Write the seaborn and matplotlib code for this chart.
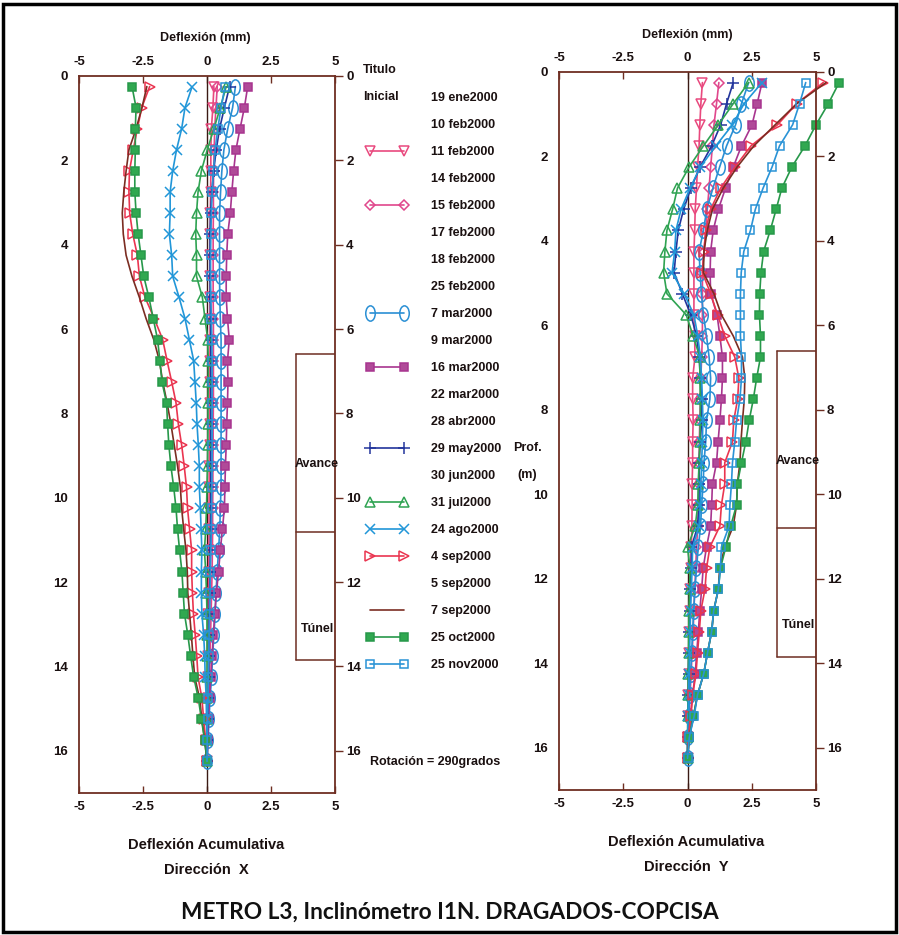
import matplotlib
matplotlib.use("Agg")
import matplotlib.pyplot as plt
import seaborn as sns
import pandas as pd
from matplotlib.lines import Line2D
from matplotlib.patches import Rectangle
from matplotlib.path import Path
from matplotlib.transforms import Affine2D

# ---------------- data ----------------
depth = [0.25, 0.75, 1.25, 1.75, 2.25, 2.75, 3.25, 3.75, 4.25, 4.75, 5.25,
         5.75, 6.25, 6.75, 7.25, 7.75, 8.25, 8.75, 9.25, 9.75, 10.25, 10.75,
         11.25, 11.75, 12.25, 12.75, 13.25, 13.75, 14.25, 14.75, 15.25, 15.75, 16.25]

dates = ["19 ene2000", "10 feb2000", "11 feb2000", "14 feb2000", "15 feb2000",
         "17 feb2000", "18 feb2000", "25 feb2000", "7 mar2000", "9 mar2000",
         "16 mar2000", "22 mar2000", "28 abr2000", "29 may2000", "30 jun2000",
         "31 jul2000", "24 ago2000", "4 sep2000", "5 sep2000", "7 sep2000",
         "25 oct2000", "25 nov2000"]

# Direction X (mm)
feb11_x = [0.27, 0.23, 0.17, 0.15, 0.15, 0.14, 0.13, 0.13, 0.12, 0.12, 0.12, 0.12, 0.12, 0.11, 0.11, 0.10, 0.10,
           0.10, 0.09, 0.09, 0.08, 0.08, 0.07, 0.07, 0.06, 0.05, 0.05, 0.04, 0.03, 0.02, 0.01, 0.00, 0.00]
feb15_x = [0.40, 0.35, 0.30, 0.28, 0.26, 0.25, 0.25, 0.24, 0.24, 0.24, 0.24, 0.25, 0.25, 0.25, 0.25, 0.25, 0.24,
           0.24, 0.23, 0.23, 0.22, 0.22, 0.21, 0.20, 0.18, 0.16, 0.14, 0.12, 0.10, 0.07, 0.05, 0.02, 0.00]
mar07_x = [1.11, 1.00, 0.81, 0.66, 0.58, 0.53, 0.49, 0.49, 0.49, 0.49, 0.50, 0.52, 0.55, 0.55, 0.55, 0.55, 0.55,
           0.55, 0.55, 0.55, 0.52, 0.50, 0.45, 0.40, 0.35, 0.32, 0.27, 0.22, 0.18, 0.12, 0.08, 0.04, 0.00]
mar16_x = [1.59, 1.46, 1.29, 1.13, 1.04, 0.97, 0.91, 0.81, 0.77, 0.75, 0.75, 0.80, 0.87, 0.80, 0.82, 0.80, 0.77,
           0.75, 0.72, 0.70, 0.68, 0.60, 0.52, 0.45, 0.37, 0.30, 0.25, 0.20, 0.15, 0.10, 0.06, 0.03, 0.00]
may29_x = [0.88, 0.68, 0.49, 0.36, 0.26, 0.19, 0.14, 0.12, 0.12, 0.12, 0.13, 0.14, 0.15, 0.15, 0.15, 0.15, 0.15,
           0.15, 0.15, 0.15, 0.15, 0.14, 0.13, 0.12, 0.10, 0.09, 0.08, 0.07, 0.06, 0.04, 0.03, 0.01, 0.00]
jul31_x = [0.75, 0.52, 0.27, 0.01, -0.22, -0.35, -0.41, -0.44, -0.41, -0.41, -0.18, -0.08, 0.03, 0.05, 0.05, 0.04, 0.04,
           0.03, 0.02, 0.00, -0.02, -0.05, -0.10, -0.05, -0.02, 0.00, 0.00, 0.00, 0.00, 0.00, 0.00, 0.00, 0.00]
ago24_x = [-0.58, -0.86, -0.99, -1.19, -1.34, -1.44, -1.44, -1.47, -1.38, -1.34, -1.09, -0.86, -0.69, -0.52, -0.47, -0.42, -0.39,
           -0.34, -0.30, -0.30, -0.26, -0.23, -0.20, -0.22, -0.22, -0.20, -0.13, -0.09, -0.07, -0.03, -0.02, 0.00, 0.00]
sep04_x = [-2.24, -2.55, -2.72, -2.88, -3.03, -3.05, -3.02, -2.90, -2.72, -2.64, -2.42, -2.06, -1.73, -1.56, -1.38, -1.21, -1.12,
           -0.99, -0.89, -0.80, -0.76, -0.68, -0.60, -0.60, -0.57, -0.53, -0.46, -0.40, -0.35, -0.20, -0.13, -0.05, 0.00]
sep07_x = [-2.35, -2.54, -2.77, -3.05, -3.16, -3.25, -3.31, -3.27, -3.16, -2.93, -2.64, -2.38, -2.08, -1.86, -1.73, -1.56, -1.41,
           -1.28, -1.15, -1.04, -0.99, -0.91, -0.82, -0.77, -0.75, -0.68, -0.61, -0.55, -0.48, -0.29, -0.20, -0.09, 0.00]
oct25_x = [-2.93, -2.77, -2.80, -2.80, -2.82, -2.82, -2.77, -2.69, -2.58, -2.47, -2.27, -2.10, -1.93, -1.84, -1.76, -1.58, -1.54,
           -1.49, -1.41, -1.30, -1.21, -1.15, -1.07, -0.98, -0.93, -0.88, -0.75, -0.64, -0.52, -0.34, -0.22, -0.09, 0.00]
nov25_x = [0.70, 0.55, 0.42, 0.32, 0.25, 0.20, 0.17, 0.15, 0.14, 0.14, 0.15, 0.17, 0.19, 0.20, 0.20, 0.20, 0.20,
           0.20, 0.20, 0.19, 0.18, 0.17, 0.15, 0.13, 0.12, 0.10, 0.08, 0.07, 0.05, 0.04, 0.02, 0.01, 0.00]

# Direction Y (mm)
feb11_y = [0.58, 0.52, 0.48, 0.45, 0.39, 0.35, 0.30, 0.28, 0.25, 0.25, 0.25, 0.25, 0.28, 0.29, 0.20, 0.20, 0.22,
           0.20, 0.20, 0.18, 0.18, 0.17, 0.15, 0.12, 0.10, 0.08, 0.07, 0.05, 0.04, 0.03, 0.02, 0.01, 0.00]
feb15_y = [1.22, 1.13, 1.03, 0.97, 0.90, 0.84, 0.77, 0.71, 0.64, 0.58, 0.58, 0.58, 0.58, 0.55, 0.52, 0.50, 0.48,
           0.46, 0.45, 0.43, 0.42, 0.40, 0.35, 0.32, 0.28, 0.25, 0.22, 0.18, 0.14, 0.10, 0.06, 0.03, 0.00]
mar07_y = [2.38, 2.10, 1.87, 1.52, 1.25, 0.99, 0.75, 0.62, 0.45, 0.49, 0.54, 0.62, 0.74, 0.84, 0.90, 0.87, 0.74,
           0.71, 0.64, 0.61, 0.55, 0.51, 0.42, 0.35, 0.29, 0.24, 0.20, 0.16, 0.12, 0.08, 0.05, 0.02, 0.00]
mar16_y = [2.90, 2.71, 2.51, 2.10, 1.78, 1.48, 1.20, 1.00, 0.90, 0.88, 0.90, 1.15, 1.26, 1.36, 1.36, 1.32, 1.26,
           1.19, 1.13, 0.97, 0.94, 0.90, 0.74, 0.61, 0.55, 0.48, 0.42, 0.36, 0.30, 0.20, 0.12, 0.05, 0.00]
may29_y = [1.78, 1.52, 1.29, 0.94, 0.49, 0.13, -0.15, -0.36, -0.45, -0.52, -0.20, 0.13, 0.35, 0.45, 0.50, 0.55, 0.55,
           0.50, 0.45, 0.45, 0.45, 0.40, 0.15, 0.15, 0.10, 0.08, 0.06, 0.05, 0.04, 0.03, 0.02, 0.01, 0.00]
jul31_y = [2.38, 1.78, 1.20, 0.62, 0.06, -0.39, -0.58, -0.80, -0.88, -0.93, -0.80, -0.05, 0.22, 0.48, 0.48, 0.50, 0.50,
           0.48, 0.45, 0.42, 0.40, 0.30, 0.00, 0.10, 0.08, 0.06, 0.05, 0.04, 0.03, 0.02, 0.01, 0.00, 0.00]
ago24_y = [2.90, 2.20, 1.75, 1.10, 0.50, 0.10, -0.25, -0.45, -0.50, -0.60, -0.13, 0.25, 0.40, 0.50, 0.55, 0.58, 0.60,
           0.58, 0.55, 0.52, 0.50, 0.45, 0.20, 0.18, 0.15, 0.12, 0.10, 0.08, 0.06, 0.04, 0.02, 0.01, 0.00]
sep04_y = [5.28, 4.25, 3.50, 2.47, 1.85, 1.29, 0.90, 0.71, 0.64, 0.58, 0.90, 1.17, 1.45, 1.84, 2.00, 1.95, 1.80,
           1.75, 1.45, 1.45, 1.32, 1.26, 0.87, 0.74, 0.68, 0.52, 0.46, 0.39, 0.33, 0.20, 0.13, 0.03, 0.00]
sep07_y = [5.39, 4.25, 3.41, 2.58, 1.93, 1.39, 0.97, 0.77, 0.64, 0.62, 1.03, 1.32, 1.78, 2.14, 2.23, 2.21, 2.14,
           2.08, 2.04, 1.94, 1.91, 1.78, 1.45, 1.25, 1.20, 1.02, 0.94, 0.78, 0.63, 0.39, 0.23, 0.07, 0.00]
oct25_y = [5.90, 5.48, 5.00, 4.57, 4.06, 3.67, 3.45, 3.22, 2.96, 2.86, 2.81, 2.80, 2.84, 2.84, 2.69, 2.56, 2.40,
           2.27, 2.10, 1.94, 1.91, 1.68, 1.49, 1.28, 1.20, 1.02, 0.94, 0.78, 0.63, 0.39, 0.23, 0.07, 0.00]
nov25_y = [4.60, 4.36, 4.09, 3.58, 3.29, 2.94, 2.64, 2.45, 2.19, 2.09, 2.06, 2.06, 2.06, 2.10, 2.10, 2.04, 1.91,
           1.84, 1.75, 1.71, 1.65, 1.62, 1.32, 1.28, 1.20, 1.02, 0.94, 0.78, 0.63, 0.39, 0.26, 0.07, 0.00]

series_x = {"11 feb2000": feb11_x, "15 feb2000": feb15_x, "7 mar2000": mar07_x, "16 mar2000": mar16_x,
            "29 may2000": may29_x, "31 jul2000": jul31_x, "24 ago2000": ago24_x, "4 sep2000": sep04_x,
            "7 sep2000": sep07_x, "25 oct2000": oct25_x, "25 nov2000": nov25_x}
series_y = {"11 feb2000": feb11_y, "15 feb2000": feb15_y, "7 mar2000": mar07_y, "16 mar2000": mar16_y,
            "29 may2000": may29_y, "31 jul2000": jul31_y, "24 ago2000": ago24_y, "4 sep2000": sep04_y,
            "7 sep2000": sep07_y, "25 oct2000": oct25_y, "25 nov2000": nov25_y}

xticks = [-5, -2.5, 0, 2.5, 5]
xtick_labels = ["-5", "-2.5", "0", "2.5", "5"]
yticks = [0, 2, 4, 6, 8, 10, 12, 14, 16]
ytick_labels = ["0", "2", "4", "6", "8", "10", "12", "14", "16"]

# zones (depth limits, m)
avance_zone = [6.6, 10.8]
tunel_zone = [10.8, 13.85]

# ---------------- styles ----------------
oval = Path.unit_circle().transformed(Affine2D().scale(0.62, 1.0))
styles = {
    "11 feb2000": dict(color="#e9497e", marker="v", mfc="none", ms=6.5),
    "15 feb2000": dict(color="#e0478c", marker="D", mfc="none", ms=5),
    "7 mar2000": dict(color="#2a8fd4", marker=oval, mfc="none", ms=11),
    "16 mar2000": dict(color="#a8358f", marker="s", mfc="#b04a98", ms=6),
    "29 may2000": dict(color="#23359c", marker="+", mfc="none", ms=8),
    "31 jul2000": dict(color="#2fa352", marker="^", mfc="none", ms=6.5),
    "24 ago2000": dict(color="#2196d8", marker="x", mfc="none", ms=6.5),
    "4 sep2000": dict(color="#ea3550", marker=">", mfc="none", ms=6.5),
    "7 sep2000": dict(color="#7b2d22", marker=None, mfc="none", ms=0),
    "25 oct2000": dict(color="#27984a", marker="s", mfc="#30a850", ms=6),
    "25 nov2000": dict(color="#2a93d6", marker="s", mfc="none", ms=6),
}
spine_col = "#6e2e22"
tc = "#1a1010"

sns.set_theme(style="white")
plt.rcParams["font.family"] = ["Liberation Sans", "DejaVu Sans"]
plt.rcParams["axes.unicode_minus"] = False

fig = plt.figure(figsize=(8.99, 9.35), dpi=100)
axL = fig.add_axes([79 / 899, 1 - 793 / 935, 256 / 899, 717 / 935])
axR = fig.add_axes([559 / 899, 1 - 790 / 935, 257 / 899, 718 / 935])


def draw(ax, series):
    ax.axvline(0, color="#3a1a14", lw=1.0, zorder=1)
    for name, vals in series.items():
        st = styles[name]
        df = pd.DataFrame({"defl": vals, "prof": depth})
        kw = dict(lw=1.2, clip_on=False)
        if st["marker"] is not None:
            kw.update(marker=st["marker"], markersize=st["ms"], markerfacecolor=st["mfc"],
                      markeredgecolor=st["color"], markeredgewidth=1.1)
        sns.lineplot(data=df, x="defl", y="prof", orient="y", sort=True, estimator=None,
                     color=st["color"], ax=ax, **kw)
    ax.set_xlim(-5, 5)
    ax.set_ylim(17, 0)
    ax.set_xticks(xticks)
    ax.set_xticklabels(xtick_labels)
    ax.set_yticks(yticks)
    ax.set_yticklabels(ytick_labels)
    ax.set_xlabel("")
    ax.set_ylabel("")
    ax.tick_params(axis="x", top=True, bottom=True, labeltop=True, labelbottom=True,
                   direction="in", length=5, width=1, color=spine_col, pad=6,
                   labelsize=9.5, labelcolor=tc)
    ax.tick_params(axis="y", left=False, right=True, labelleft=True, labelright=True,
                   direction="out", length=6, width=1, color=spine_col, pad=2,
                   labelsize=9.5, labelcolor=tc)
    for lab in ax.get_xticklabels() + ax.get_yticklabels():
        lab.set_fontweight("bold")
    for sp in ax.spines.values():
        sp.set_color(spine_col)
        sp.set_linewidth(1.3)
    # Avance / Tunel bracket
    xb = 3.47
    ax.plot([xb, xb], [avance_zone[0], tunel_zone[1]], color=spine_col, lw=1.1)
    for d in [avance_zone[0], avance_zone[1], tunel_zone[1]]:
        ax.plot([xb, 5], [d, d], color=spine_col, lw=1.1)
    ax.text(4.3, 9.2, "Avance", ha="center", va="center", fontsize=9, fontweight="bold", color=tc)
    ax.text(4.3, 13.1, "Túnel", ha="center", va="center", fontsize=9, fontweight="bold", color=tc)


draw(axL, series_x)
draw(axR, series_y)

# axis captions
fig.text(205 / 899, 1 - 38 / 935, "Deflexión (mm)", ha="center", va="center", fontsize=9, fontweight="bold", color=tc)
fig.text(687 / 899, 1 - 35 / 935, "Deflexión (mm)", ha="center", va="center", fontsize=9, fontweight="bold", color=tc)
cap = dict(ha="center", va="center", fontsize=10.5, fontweight="bold", color=tc)
fig.text(206 / 899, 1 - 845 / 935, "Deflexión Acumulativa", **cap)
fig.text(206 / 899, 1 - 870 / 935, "Dirección  X", **cap)
fig.text(686 / 899, 1 - 842 / 935, "Deflexión Acumulativa", **cap)
fig.text(686 / 899, 1 - 867 / 935, "Dirección  Y", **cap)
fig.text(513 / 899, 1 - 448 / 935, "Prof.", ha="left", va="center", fontsize=9, fontweight="bold", color=tc)
fig.text(517 / 899, 1 - 475 / 935, "(m)", ha="left", va="center", fontsize=9, fontweight="bold", color=tc)
fig.text(363 / 899, 1 - 70 / 935, "Titulo", ha="left", va="center", fontsize=9, fontweight="bold", color=tc)
fig.text(363 / 899, 1 - 97 / 935, "Inicial", ha="left", va="center", fontsize=9, fontweight="bold", color=tc)
fig.text(370 / 899, 1 - 762 / 935, "Rotación = 290grados", ha="left", va="center", fontsize=9, fontweight="bold", color=tc)
fig.text(0.5, 1 - 912 / 935, "METRO L3, Inclinómetro I1N. DRAGADOS-COPCISA", ha="center", va="center",
         fontsize=16.3, fontweight="bold", family=["Lato", "DejaVu Sans"], color="#111111")

# legend
handles = []
for name in dates:
    if name in styles:
        st = styles[name]
        if st["marker"] is None:
            h = Line2D([], [], color=st["color"], lw=1.2)
        else:
            h = Line2D([], [], color=st["color"], lw=1.2, marker=st["marker"], markersize=st["ms"],
                       markerfacecolor=st["mfc"], markeredgecolor=st["color"], markeredgewidth=1.1)
    else:
        h = Line2D([], [], linestyle="none")
    handles.append(h)
leg = fig.legend(handles, dates, loc="upper left", bbox_to_anchor=(366 / 899, 1 - 92 / 935),
                 frameon=False, numpoints=2, handlelength=3.3, handletextpad=1.9,
                 labelspacing=1.2, borderpad=0, borderaxespad=0,
                 prop={"weight": "bold", "size": 9})
for t in leg.get_texts():
    t.set_color(tc)

# outer frame
fig.patches.append(Rectangle((0.003, 0.003), 0.994, 0.993, transform=fig.transFigure,
                             fill=False, edgecolor="black", lw=2.5))

fig.savefig("out.png", dpi=100)
